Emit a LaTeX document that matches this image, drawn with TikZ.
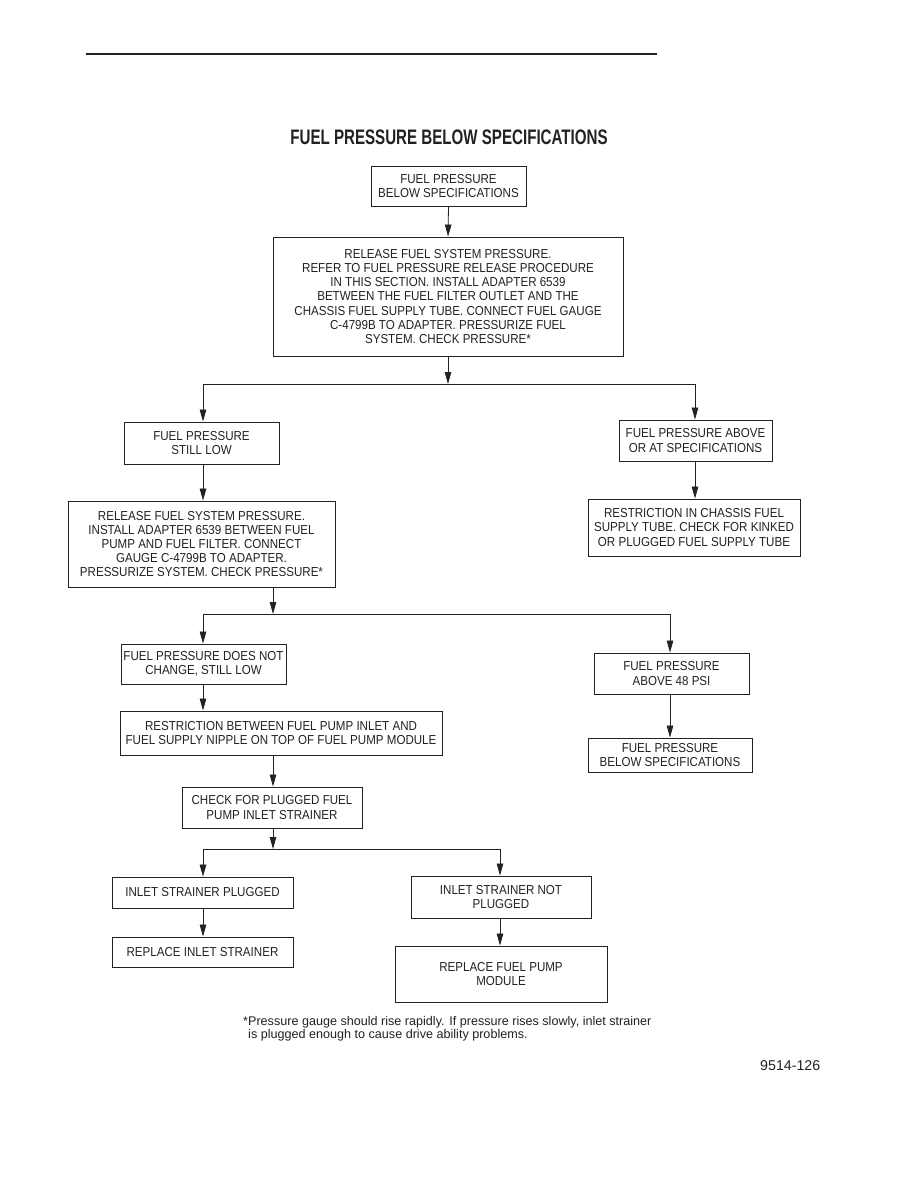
\documentclass[tikz,border=0pt]{standalone}
\usepackage{fontspec}
\setmainfont{Liberation Sans}
\newfontfamily\boxfont[FakeStretch=0.89]{Liberation Sans}
\newfontfamily\titlefont[FakeStretch=0.72]{Liberation Sans}
\usetikzlibrary{arrows.meta}
\definecolor{ink}{HTML}{222222}
\tikzset{
  box/.style={draw=ink, line width=0.9pt, inner sep=0pt, align=center, text=ink,
    font=\boxfont\fontsize{13}{14.2}\selectfont},
  arr/.style={draw=ink, line width=0.8pt, -{Triangle[length=12pt,width=6.5pt]}},
  ln/.style={draw=ink, line width=0.8pt},
}
\newcommand{\bx}[6]{% name, x1, y1, x2, y2, text
  \node[box, minimum width={#4-#2}, minimum height={#5-#3}] (#1) at ({(#2+#4)/2},{(#3+#5)/2}) {#6};}
\begin{document}
\begin{tikzpicture}[x=1pt,y=-1pt]
\useasboundingbox (0,0) rectangle (918,1188);
\fill[white] (0,0) rectangle (918,1188);
\coordinate (r1) at (86,54); \coordinate (r2) at (657,54);
\draw[ink, line width=2pt] (r1) -- (r2);
\node[text=ink, font=\titlefont\bfseries\fontsize{21}{24}\selectfont] (title) at (449,137) {FUEL PRESSURE BELOW SPECIFICATIONS};

\bx{b1}{371}{166}{526}{206}{FUEL PRESSURE\\BELOW SPECIFICATIONS}
\bx{b2}{273}{237}{623}{356}{RELEASE FUEL SYSTEM PRESSURE.\\REFER TO FUEL PRESSURE RELEASE PROCEDURE\\IN THIS SECTION. INSTALL ADAPTER 6539\\BETWEEN THE FUEL FILTER OUTLET AND THE\\CHASSIS FUEL SUPPLY TUBE. CONNECT FUEL GAUGE\\C-4799B TO ADAPTER. PRESSURIZE FUEL\\SYSTEM. CHECK PRESSURE*}
\bx{b3}{124}{422}{279}{464}{FUEL PRESSURE\\STILL LOW}
\bx{b4}{619}{420}{772}{461}{FUEL PRESSURE ABOVE\\OR AT SPECIFICATIONS}
\bx{b5}{68}{501}{335}{587}{RELEASE FUEL SYSTEM PRESSURE.\\INSTALL ADAPTER 6539 BETWEEN FUEL\\PUMP AND FUEL FILTER. CONNECT\\GAUGE C-4799B TO ADAPTER.\\PRESSURIZE SYSTEM. CHECK PRESSURE*}
\bx{b6}{588}{499}{800}{556}{RESTRICTION IN CHASSIS FUEL\\SUPPLY TUBE. CHECK FOR KINKED\\OR PLUGGED FUEL SUPPLY TUBE}
\bx{b7}{121}{644}{286}{684}{FUEL PRESSURE DOES NOT\\CHANGE, STILL LOW}
\bx{b8}{594}{653}{749}{694}{FUEL PRESSURE\\ABOVE 48 PSI}
\bx{b9}{120}{711}{442}{755}{RESTRICTION BETWEEN FUEL PUMP INLET AND\\FUEL SUPPLY NIPPLE ON TOP OF FUEL PUMP MODULE}
\bx{b10}{588}{738}{752}{772}{FUEL PRESSURE\\BELOW SPECIFICATIONS}
\bx{b11}{182}{787}{362}{828}{CHECK FOR PLUGGED FUEL\\PUMP INLET STRAINER}
\bx{b12}{112}{877}{293}{908}{INLET STRAINER PLUGGED}
\bx{b13}{411}{876}{591}{918}{INLET STRAINER NOT\\PLUGGED}
\bx{b14}{112}{937}{293}{967}{REPLACE INLET STRAINER}
\bx{b15}{395}{946}{607}{1002}{REPLACE FUEL PUMP\\MODULE}

% connectors
\draw[arr] (b1.south) -- (b2.north);
\coordinate (j1) at (448,384); \coordinate (j1l) at (203,384); \coordinate (j1r) at (695,384);
\draw[arr] (b2.south -| j1) -- (j1);
\draw[ln] (j1l) -- (j1r);
\draw[arr] (j1l) -- (j1l |- b3.north);
\draw[arr] (j1r) -- (j1r |- b4.north);
\draw[arr] (b3.south -| j1l) -- (j1l |- b5.north);
\draw[arr] (b4.south -| j1r) -- (j1r |- b6.north);

\coordinate (j2) at (273,614); \coordinate (j2l) at (203,614); \coordinate (j2r) at (670,614);
\draw[arr] (b5.south -| j2) -- (j2);
\draw[ln] (j2l) -- (j2r);
\draw[arr] (j2l) -- (j2l |- b7.north);
\draw[arr] (j2r) -- (j2r |- b8.north);
\draw[arr] (b7.south -| j2l) -- (j2l |- b9.north);
\draw[arr] (b8.south -| j2r) -- (j2r |- b10.north);
\draw[arr] (b9.south -| j2) -- (j2 |- b11.north);

\coordinate (j3) at (273,849); \coordinate (j3l) at (203,849); \coordinate (j3r) at (500,849);
\draw[arr] (b11.south -| j3) -- (j3);
\draw[ln] (j3l) -- (j3r);
\draw[arr] (j3l) -- (j3l |- b12.north);
\draw[arr] (j3r) -- (j3r |- b13.north);
\draw[arr] (b12.south -| j3l) -- (j3l |- b14.north);
\draw[arr] (b13.south -| j3r) -- (j3r |- b15.north);

\node[anchor=north west, inner sep=0pt, align=left, text=ink, font=\fontsize{12.6}{13.2}\selectfont] (foot) at (243,1016)
  {*Pressure gauge should rise rapidly. If pressure rises slowly, inlet strainer\\\hspace*{5pt}is plugged enough to cause drive ability problems.};
\node[anchor=west, inner sep=0pt, text=ink, font=\fontsize{14.2}{16}\selectfont] (fig) at (760,1066) {9514-126};
\end{tikzpicture}
\end{document}
